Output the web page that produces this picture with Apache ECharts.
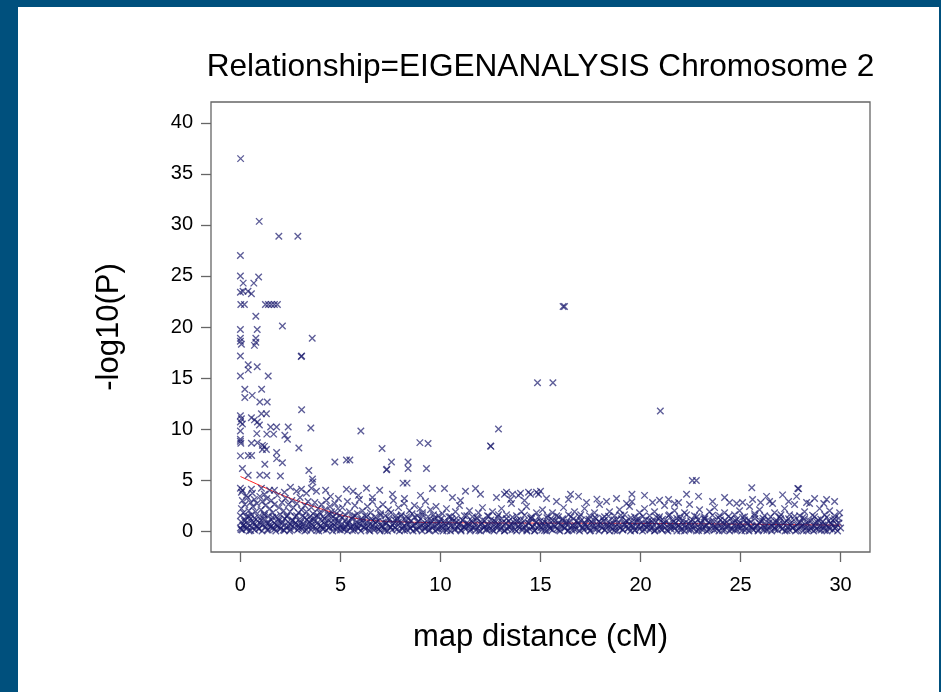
<!DOCTYPE html>
<html><head><meta charset="utf-8">
<script src="https://cdn.jsdelivr.net/npm/echarts@6/dist/echarts.min.js"></script>
<style>html,body{margin:0;padding:0;background:#fff}#c{width:941px;height:692px}</style>
</head><body><div id="c"></div>
<script>
const titleText = 'Relationship=EIGENANALYSIS Chromosome 2';
const xName = 'map distance (cM)';
const yName = '-log10(P)';
const xTicks = [0,5,10,15,20,25,30];
const yTicks = [0,5,10,15,20,25,30,35,40];

const peaks = [[0.01,36.5],[0.94,30.35],[1.92,28.9],[2.87,28.9],[0,27.0],[0,25.0],[0.91,24.9],[0.14,24.3],[0.67,24.3],[0,23.4],[0.13,23.5],[0.38,23.5],[0.55,23.25],[0.02,22.2],[0.2,22.2],[1.25,22.2],[1.4,22.2],[1.55,22.2],[1.7,22.2],[1.85,22.2],[0.77,21.05],[0,19.75],[0.84,19.75],[2.1,20.1],[0,18.9],[0,18.6],[0.05,18.3],[0.77,18.9],[0.77,18.5],[0.7,18.2],[3.59,18.9],[0,17.15],[3.06,17.15],[3.04,17.1],[0.39,16.3],[0.39,15.8],[0.84,16.1],[0,15.2],[1.39,15.2],[0.22,13.9],[1.06,13.9],[0.22,13.1],[0.59,13.3],[0.97,12.65],[1.34,12.65],[3.06,11.9],[1.05,11.5],[1.3,11.5],[0,11.3],[0.05,11.0],[0,10.7],[0.1,10.5],[0.55,11.1],[0.7,10.9],[0.85,10.7],[0.95,10.4],[1.51,10.2],[1.81,10.2],[2.39,10.2],[3.52,10.1],[6.02,9.8],[0,9.8],[0.82,9.55],[1.32,9.5],[1.66,9.5],[2.22,9.4],[2.35,9.0],[0,9.0],[0,8.8],[0.02,8.6],[0.55,8.6],[0.85,8.65],[1.1,8.4],[1.1,8.0],[1.3,8.0],[1.2,8.3],[2.92,8.15],[0,7.37],[0.39,7.4],[0.56,7.4],[1.81,7.7],[1.81,7.1],[2.1,6.7],[1.22,6.55],[4.72,6.78],[5.3,6.97],[5.47,6.97],[0.1,6.13],[0.39,5.48],[0.97,5.5],[1.32,5.45],[2.0,5.4],[3.42,5.93],[3.6,5.1],[3.62,4.8],[7.08,8.1],[8.97,8.67],[9.38,8.58],[7.3,6.0],[7.32,6.05],[7.55,6.78],[8.38,6.78],[8.38,6.13],[9.3,6.13],[8.13,4.7],[8.33,4.7],[12.5,8.35],[12.52,8.3],[12.9,10.0],[11.25,3.9],[11.75,4.17],[10.2,4.17],[9.6,4.17],[14.85,14.54],[15.62,14.54],[20.99,11.77],[22.59,4.96],[22.79,4.96],[25.56,4.24],[27.86,4.17],[27.9,4.15],[16.13,22.0],[16.2,22.0],[17.82,3.13],[19.57,3.6],[19.57,2.87],[20.95,3.03],[27.1,3.55],[29.16,2.7],[25.1,2.8]];

const bandLow = [[0,0.3],[0.04,0.9],[0.09,0.1],[0.17,0.6],[0.24,1.1],[0.29,0.2],[0.37,0.7],[0.44,0],[0.51,1.2],[0.57,0.4],[0.65,0.9],[0.71,0.1],[0.79,0.5],[0.87,1],[0.93,0.2],[1.01,0.7],[1.08,0],[1.16,1.2],[1.24,0.4],[1.31,0.8],[1.39,0.1],[1.46,0.6],[1.54,1.1],[1.61,0.3],[1.69,0.8],[1.77,0],[1.84,0.5],[1.92,1],[1.99,0.2],[2.07,0.7],[2.15,0.1],[2.22,1.2],[2.3,0.4],[2.38,0.9],[2.46,0],[2.53,0.6],[2.61,1.1],[2.69,0.3],[2.77,0.8],[2.85,0.1],[2.92,0.5],[2.99,1],[3.07,0.2],[3.15,0.7],[3.22,0],[3.3,1.1],[3.38,0.4],[3.46,0.9],[3.53,0.1],[3.61,0.6],[3.69,1.2],[3.76,0.3],[3.84,0.8],[3.92,0],[3.99,0.5],[4.07,1],[4.15,0.2],[4.22,0.7],[4.3,0.1],[4.38,1.1],[4.45,0.4],[4.53,0.9],[4.61,0],[4.68,0.6],[4.76,1.2],[4.84,0.3],[4.91,0.8],[4.99,0.1],
[5.06,0.6],[5.13,0.2],[5.21,1],[5.27,0.4],[5.35,0],[5.42,0.8],[5.5,0.3],[5.57,1.2],[5.65,0.5],[5.71,0.1],[5.8,0.9],[5.87,0.3],[5.94,0.7],[6.02,0],[6.1,1.1],[6.16,0.4],[6.24,0.2],[6.31,0.9],[6.39,0.5],[6.47,0],[6.54,1.2],[6.6,0.6],[6.68,0.1],[6.76,0.8],[6.83,0.3],[6.9,1],[6.98,0],[7.05,0.5],[7.13,0.9],[7.2,0.2],[7.28,0.7],[7.35,0],[7.43,1.1],[7.5,0.4],[7.58,0.1],[7.66,0.8],[7.73,0.3],[7.81,1.2],[7.88,0.6],[7.95,0],[8.03,0.9],[8.1,0.2],[8.18,0.5],[8.26,1.1],[8.33,0.1],[8.41,0.7],[8.48,0.3],[8.55,1],[8.63,0],[8.7,0.6],[8.78,0.2],[8.86,0.9],[8.93,0.4],[9.01,1.2],[9.08,0],[9.15,0.7],[9.23,0.2],[9.31,1],[9.38,0.5],[9.46,0.1],[9.53,0.8],[9.6,0.3],[9.68,1.1],[9.75,0],[9.83,0.6],[9.9,0.2],[9.98,0.9],
[10.05,0.4],[10.13,0],[10.2,1],[10.27,0.6],[10.35,0.2],[10.43,0.8],[10.5,0],[10.57,1.2],[10.65,0.5],[10.72,0.1],[10.8,0.9],[10.88,0.3],[10.95,0.7],[11.03,0],[11.1,1.1],[11.17,0.4],[11.25,0.2],[11.32,0.8],[11.4,0.5],[11.48,0],[11.55,1],[11.62,0.3],[11.7,0.7],[11.78,0.1],[11.85,1.2],[11.92,0.5],[12,0],[12.07,0.8],[12.15,0.3],[12.22,1],[12.3,0.1],[12.37,0.6],[12.45,0.2],[12.52,1.1],[12.6,0.4],[12.67,0],[12.75,0.9],[12.82,0.3],[12.9,0.7],[12.97,0.1],[13.05,1.2],[13.12,0.5],[13.2,0],[13.27,0.8],[13.35,0.2],[13.42,1],[13.5,0.4],[13.57,0.1],[13.65,0.9],[13.72,0.6],[13.8,0],[13.87,1.1],[13.95,0.3],[14.02,0.7],[14.1,0.1],[14.17,1],[14.25,0.5],[14.32,0],[14.4,0.8],[14.47,0.2],[14.55,1.2],[14.62,0.4],[14.7,0],[14.77,0.9],[14.85,0.3],[14.92,0.6],
[15,1],[15.07,0.1],[15.15,0.5],[15.22,0.9],[15.3,0],[15.37,0.7],[15.45,0.3],[15.52,1.2],[15.6,0.1],[15.67,0.6],[15.75,1],[15.82,0.2],[15.9,0.8],[15.97,0],[16.05,0.5],[16.12,1.1],[16.2,0.3],[16.27,0.7],[16.35,0],[16.42,0.9],[16.5,0.4],[16.57,0.1],[16.65,1.2],[16.72,0.6],[16.8,0.2],[16.87,0.8],[16.95,0],[17.02,1],[17.1,0.4],[17.17,0.1],[17.25,0.7],[17.32,1.1],[17.4,0.3],[17.47,0],[17.55,0.9],[17.62,0.5],[17.7,0.2],[17.77,1.2],[17.85,0.6],[17.92,0],[18,0.8],[18.07,0.3],[18.15,1],[18.22,0.1],[18.3,0.5],[18.37,0.9],[18.45,0],[18.52,0.7],[18.6,0.2],[18.67,1.1],[18.75,0.4],[18.82,0],[18.9,0.8],[18.97,0.3],[19.05,1.2],[19.12,0.1],[19.2,0.6],[19.27,1],[19.35,0.2],[19.42,0.7],[19.5,0],[19.57,0.9],[19.65,0.4],[19.72,0.1],[19.8,1.1],[19.87,0.5],[19.95,0.2],
[20.02,0.8],[20.1,0],[20.17,0.6],[20.25,1.1],[20.32,0.3],[20.4,0.7],[20.47,0.1],[20.55,1],[20.62,0.4],[20.7,0],[20.77,0.9],[20.85,0.2],[20.92,1.2],[21,0.5],[21.07,0.1],[21.15,0.8],[21.22,0.3],[21.3,1],[21.37,0],[21.45,0.6],[21.52,0.2],[21.6,1.1],[21.67,0.4],[21.75,0.8],[21.82,0],[21.9,0.5],[21.97,1.2],[22.05,0.2],[22.12,0.7],[22.2,0],[22.27,0.9],[22.35,0.4],[22.42,0.1],[22.5,1],[22.57,0.6],[22.65,0.2],[22.72,0.8],[22.8,0],[22.87,1.1],[22.95,0.3],[23.02,0.7],[23.1,0.1],[23.17,1.2],[23.25,0.5],[23.32,0],[23.4,0.9],[23.47,0.2],[23.55,0.6],[23.62,1],[23.7,0.1],[23.77,0.4],[23.85,0.8],[23.92,0],[24,1.1],[24.07,0.3],[24.15,0.7],[24.22,0.1],[24.3,0.9],[24.37,0.5],[24.45,0],[24.52,1.2],[24.6,0.2],[24.67,0.6],[24.75,1],[24.82,0.1],[24.9,0.4],[24.97,0.8],
[25.05,0],[25.12,0.6],[25.2,1.1],[25.27,0.2],[25.35,0.7],[25.42,0],[25.5,0.9],[25.57,0.4],[25.65,0.1],[25.72,1.2],[25.8,0.5],[25.87,0],[25.95,0.8],[26.02,0.3],[26.1,1],[26.17,0.1],[26.25,0.6],[26.32,0.2],[26.4,1.1],[26.47,0.4],[26.55,0],[26.62,0.8],[26.7,0.3],[26.77,0.9],[26.85,0.1],[26.92,0.5],[27,1.2],[27.07,0.2],[27.15,0.7],[27.22,0],[27.3,1],[27.37,0.4],[27.45,0.1],[27.52,0.8],[27.6,0.3],[27.67,1.1],[27.75,0],[27.82,0.6],[27.9,0.2],[27.97,0.9],[28.05,0.5],[28.12,0],[28.2,1.2],[28.27,0.3],[28.35,0.7],[28.42,0.1],[28.5,1],[28.57,0.4],[28.65,0],[28.72,0.8],[28.8,0.2],[28.87,1.1],[28.95,0.5],[29.02,0.1],[29.1,0.9],[29.17,0.3],[29.25,0.6],[29.32,0],[29.4,1],[29.47,0.2],[29.55,0.7],[29.62,0.1],[29.7,1.2],[29.77,0.4],[29.85,0],[29.92,0.8],[30,0.3]];

const bandLow2 = [[0.03,0.15],[0.12,0.55],[0.21,0.95],[0.33,0.35],[0.41,1.45],[0.52,0.05],[0.61,0.75],[0.7,1.25],[0.82,0.45],[0.91,0.25],[1.03,1.05],[1.12,0.65],[1.2,1.55],[1.33,0.1],[1.42,0.85],[1.5,0.4],[1.61,1.35],[1.72,0.2],[1.8,0.6],[1.91,1.15],[2.02,0.3],[2.11,0.9],[2.2,0.05],[2.32,1.4],[2.41,0.5],[2.5,0.15],[2.62,1.0],[2.7,0.7],[2.81,1.5],[2.92,0.25],[3.01,0.8],[3.1,0.45],[3.22,1.3],[3.31,0.1],[3.4,0.65],[3.52,1.1],[3.6,0.35],[3.71,0.95],[3.82,0.05],[3.9,1.45],[4.02,0.55],[4.11,0.2],[4.2,1.2],[4.31,0.75],[4.42,0.3],[4.5,1.6],[4.61,0.4],[4.72,0.9],[4.8,0.1],[4.91,1.05],
[5.02,0.35],[5.11,1.3],[5.2,0.15],[5.32,0.7],[5.41,1.0],[5.52,0.45],[5.6,0.05],[5.72,1.5],[5.81,0.6],[5.9,0.25],[6.01,1.15],[6.12,0.85],[6.2,0.4],[6.31,1.4],[6.42,0.1],[6.5,0.65],[6.62,1.05],[6.7,0.3],[6.81,0.95],[6.92,0.2],[7.01,1.55],[7.1,0.5],[7.22,0.05],[7.3,0.8],[7.41,1.25],[7.52,0.35],[7.6,0.6],[7.71,1.1],[7.82,0.15],[7.9,0.9],[8.02,1.45],[8.11,0.4],[8.2,0.05],[8.32,0.75],[8.41,1.2],[8.5,0.25],[8.62,0.55],[8.7,1.35],[8.81,0.1],[8.92,0.95],[9.01,0.45],[9.1,1.6],[9.22,0.3],[9.3,0.7],[9.41,0.05],[9.52,1.0],[9.6,0.5],[9.71,1.3],[9.82,0.2],[9.9,0.85],
[10.01,1.15],[10.12,0.3],[10.2,0.75],[10.31,0.05],[10.42,1.4],[10.5,0.5],[10.61,0.95],[10.72,0.2],[10.8,1.25],[10.91,0.6],[11.02,0.1],[11.1,1.05],[11.21,0.4],[11.32,1.5],[11.4,0.7],[11.51,0.15],[11.62,0.9],[11.7,0.35],[11.81,1.3],[11.92,0.05],[12.01,0.65],[12.1,1.1],[12.22,0.45],[12.3,0.2],[12.41,1.45],[12.52,0.8],[12.6,0.1],[12.71,1.0],[12.82,0.55],[12.9,1.6],[13.01,0.25],[13.1,0.85],[13.21,0.05],[13.3,1.2],[13.42,0.4],[13.51,0.7],[13.6,1.35],[13.72,0.15],[13.81,0.95],[13.9,0.5],[14.02,1.05],[14.11,0.3],[14.2,1.55],[14.31,0.1],[14.42,0.75],[14.5,1.25],[14.61,0.45],[14.72,0.05],[14.8,0.9],[14.91,1.4],
[15.02,0.35],[15.11,0.8],[15.2,0.05],[15.32,1.3],[15.41,0.6],[15.5,0.2],[15.62,1.05],[15.7,0.45],[15.81,1.5],[15.92,0.1],[16.01,0.7],[16.1,1.2],[16.22,0.3],[16.31,0.9],[16.4,0.05],[16.52,1.4],[16.6,0.55],[16.71,0.15],[16.82,1.0],[16.9,0.65],[17.01,1.6],[17.12,0.25],[17.2,0.85],[17.31,0.4],[17.42,1.15],[17.5,0.05],[17.61,0.75],[17.72,1.35],[17.8,0.2],[17.91,0.95],[18.02,0.5],[18.1,1.25],[18.21,0.1],[18.32,0.6],[18.4,1.45],[18.51,0.35],[18.62,0.8],[18.7,0.05],[18.81,1.1],[18.92,0.45],[19.01,1.55],[19.1,0.15],[19.22,0.7],[19.3,1.0],[19.41,0.3],[19.52,1.3],[19.6,0.55],[19.71,0.05],[19.82,0.9],[19.9,1.2],
[20.01,0.4],[20.12,1.45],[20.2,0.15],[20.31,0.65],[20.42,1.05],[20.5,0.3],[20.61,0.85],[20.72,0.05],[20.8,1.35],[20.91,0.55],[21.02,0.2],[21.1,1.15],[21.21,0.7],[21.32,0.1],[21.4,1.5],[21.51,0.45],[21.62,0.9],[21.7,0.25],[21.81,1.25],[21.92,0.6],[22.01,0.05],[22.1,1.0],[22.22,0.35],[22.3,1.6],[22.41,0.75],[22.52,0.15],[22.6,1.1],[22.71,0.5],[22.82,1.4],[22.9,0.05],[23.01,0.8],[23.1,0.3],[23.22,1.2],[23.3,0.6],[23.41,0.1],[23.52,0.95],[23.6,1.55],[23.71,0.4],[23.82,0.2],[23.9,1.3],[24.01,0.7],[24.1,0.05],[24.22,1.05],[24.3,0.5],[24.41,1.45],[24.52,0.25],[24.6,0.85],[24.71,0.1],[24.82,1.15],[24.9,0.65],
[25.01,0.3],[25.1,1.35],[25.22,0.05],[25.3,0.75],[25.41,1.1],[25.52,0.45],[25.6,0.2],[25.71,1.5],[25.82,0.6],[25.9,0.1],[26.01,0.95],[26.12,1.25],[26.2,0.35],[26.31,0.05],[26.42,0.8],[26.5,1.4],[26.61,0.5],[26.72,0.15],[26.8,1.05],[26.91,0.7],[27.02,1.6],[27.1,0.25],[27.21,0.9],[27.32,0.05],[27.4,1.2],[27.51,0.55],[27.62,0.3],[27.7,1.45],[27.81,0.1],[27.92,0.85],[28.01,0.4],[28.1,1.3],[28.22,0.65],[28.3,0.05],[28.41,1.0],[28.52,0.2],[28.6,1.55],[28.71,0.45],[28.82,0.9],[28.9,0.15],[29.01,1.15],[29.12,0.6],[29.2,0.05],[29.31,1.35],[29.42,0.35],[29.5,0.8],[29.61,1.05],[29.72,0.25],[29.8,0.7],[29.91,1.25]];

const bandMid = [[0,1.5],[0.05,2.2],[0.1,3],[0.15,1.8],[0.22,2.6],[0.3,1.4],[0.36,3.3],[0.42,2],[0.5,2.8],[0.55,1.6],[0.62,2.4],[0.7,3.1],[0.76,1.9],[0.83,2.7],[0.9,1.4],[0.97,3.4],[1.03,2.1],[1.1,2.9],[1.18,1.7],[1.25,2.5],[1.32,3.2],[1.4,1.5],[1.47,2.2],[1.55,3],[1.62,1.8],[1.7,2.6],[1.78,1.4],[1.85,3.5],[1.93,2.3],[2,1.6],[2.08,2.8],[2.16,2],[2.25,3.2],[2.33,1.5],[2.4,2.6],[2.48,1.9],[2.57,3],[2.65,2.3],[2.73,1.4],[2.82,2.7],[2.9,1.8],[2.98,3.3],[3.05,2.1],[3.13,1.5],[3.22,2.5],[3.3,1.9],[3.38,2.9],[3.47,1.4],[3.55,2.3],[3.63,1.7],[3.72,2.8],[3.8,1.5],[3.88,2.2],[3.97,1.8],[4.05,2.6],[4.13,1.4],[4.22,2.1],[4.3,3],[4.38,1.6],[4.47,2.4],[4.55,1.9],[4.63,1.4],[4.72,2.7],[4.8,1.7],[4.88,2.2],[4.97,1.5],
[5.1,2.3],[5.22,1.6],[5.35,2.9],[5.45,1.9],[5.6,1.4],[5.72,2.5],[5.85,1.7],[5.95,3.1],[6.1,2],[6.22,1.5],[6.35,2.4],[6.5,1.8],[6.6,2.9],[6.75,1.4],[6.88,2.2],[7,1.7],[7.12,2.6],[7.25,1.5],[7.4,2.1],[7.52,1.8],[7.65,3],[7.78,1.5],[7.9,2.3],[8.05,1.6],[8.18,2.7],[8.3,1.4],[8.45,2],[8.58,1.7],[8.7,2.5],[8.85,1.5],[8.98,2.2],[9.1,1.8],[9.25,2.9],[9.38,1.4],[9.5,2.1],[9.65,1.6],[9.78,2.4],[9.9,1.5],
[10.1,1.7],[10.3,2.2],[10.5,1.4],[10.75,1.9],[10.95,2.5],[11.2,1.5],[11.45,2],[11.6,1.4],[11.9,1.8],[12.1,2.3],[12.35,1.5],[12.6,1.9],[12.85,1.4],[13.05,2.2],[13.3,1.6],[13.55,2.7],[13.8,1.5],[14.05,1.9],[14.3,2.4],[14.55,1.4],[14.8,1.8],[15.1,2.1],[15.35,1.5],[15.6,1.8],[15.9,1.4],[16.15,2.3],[16.4,1.6],[16.7,1.9],[16.95,1.4],[17.2,2.2],[17.45,1.5],[17.7,1.8],[17.95,2.6],[18.2,1.4],[18.45,1.9],[18.7,1.5],[18.95,2.1],[19.2,1.6],[19.45,2.4],[19.7,1.4],[19.95,1.8],[20.2,2.2],[20.45,1.5],[20.7,1.9],[20.95,1.4],[21.2,2.5],[21.45,1.6],[21.7,2],[21.95,1.4],[22.2,1.8],[22.45,2.6],[22.7,1.5],[22.95,2.1],[23.2,1.4],[23.45,1.9],[23.7,2.3],[23.95,1.5],[24.2,1.8],[24.45,2.8],[24.7,1.6],[24.95,2],[25.2,1.4],[25.45,2.4],[25.7,1.7],[25.95,2.1],[26.2,1.5],[26.45,2.9],[26.7,1.8],[26.95,1.4],[27.2,2.2],[27.45,1.6],[27.7,2.6],[27.95,1.5],[28.2,1.9],[28.45,2.7],[28.7,1.4],[28.95,2.2],[29.2,1.6],[29.45,2],[29.7,1.5],[29.95,1.8]];

const bandHigh = [[0,4.2],[0.05,3.8],[0.1,4],[0.3,3.5],[0.55,4.1],[0.6,3.7],[1.05,4.2],[1.2,3.6],[1.46,4.0],[1.7,4.0],[2.2,3.8],[2.5,4.3],[2.8,3.9],[3.05,4.1],[3.3,3.7],[3.55,4.2],[3.8,3.9],[4.26,4.0],[4.5,3.4],[4.9,3.2],[5.3,4.1],[5.63,3.9],[5.9,3.5],[6.3,4.2],[6.6,3.3],[6.96,4.0],[7.6,3.6],[8.2,3.2],[9.0,3.5],
[10.6,3.3],[11.0,3.0],[12.0,3.6],[12.8,3.3],[13.2,3.6],[13.3,3.8],[13.5,3.1],[13.6,3.6],[13.9,3.5],[14.0,3.7],[14.2,3.0],[14.4,3.8],[14.5,3.6],[14.8,3.8],[14.9,3.6],[15.0,3.9],[15.3,3.2],[15.8,2.9],[16.4,3.1],[16.5,3.6],[16.9,3.4],[17.3,2.8],[18.3,2.9],[18.8,3.2],[19.3,2.7],[20.2,3.5],[20.6,2.8],[21.4,3.1],[21.7,2.7],[21.9,2.8],[22.3,3.6],[22.9,3.4],[23.6,2.9],[24.2,3.3],[24.8,2.7],[25.6,3.1],[26.0,2.8],[26.3,3.4],[26.6,2.7],[27.4,2.9],[27.8,3.4],[28.3,2.8],[28.7,3.2],[29.3,3.1],[29.7,2.9]];

const trendX = [0,1,2,3,4,5,6,7,8,9,10,12,15,18,20,22,25,28,30];
const trendY = [5.35,4.45,3.6,2.85,2.2,1.6,1.17,0.98,0.9,0.85,0.82,0.8,0.78,0.77,0.75,0.73,0.68,0.62,0.58];

const FONT = '"Liberation Sans", Arial, Helvetica, sans-serif';
const chart = echarts.init(document.getElementById('c'), null, {renderer: 'canvas'});
const points = peaks.concat(bandLow, bandLow2, bandMid, bandHigh);
const trend = trendX.map((x, i) => [x, trendY[i]]);

chart.setOption({
  animation: false,
  backgroundColor: '#ffffff',
  grid: {left: 211, top: 102, right: 71, bottom: 140, show: true, borderColor: '#666', borderWidth: 1.3, backgroundColor: 'transparent'},
  graphic: [
    {type: 'rect', shape: {x: 0, y: 0, width: 18, height: 692}, style: {fill: '#00507d'}, z: 100},
    {type: 'rect', shape: {x: 0, y: 0, width: 941, height: 7}, style: {fill: '#00507d'}, z: 100},
    {type: 'rect', shape: {x: 939, y: 0, width: 2, height: 692}, style: {fill: '#00507d'}, z: 100},
    {type: 'text', x: 540.5, y: 67, style: {text: titleText, font: '31.6px ' + FONT, fill: '#000', textAlign: 'center', textVerticalAlign: 'middle'}}
  ],
  xAxis: {
    type: 'value', min: -1.47, max: 31.47,
    name: xName, nameLocation: 'middle', nameGap: 70,
    nameTextStyle: {fontSize: 31, fontFamily: FONT, color: '#000'},
    axisLine: {show: false, onZero: false},
    splitLine: {show: false},
    axisTick: {show: true, customValues: xTicks, length: 10, inside: false, lineStyle: {color: '#666', width: 1.3}},
    axisLabel: {customValues: xTicks, fontSize: 20, fontFamily: FONT, color: '#000', margin: 23}
  },
  yAxis: {
    type: 'value', min: -2.05, max: 42.05,
    name: yName, nameLocation: 'middle', nameGap: 86,
    nameTextStyle: {fontSize: 31, fontFamily: FONT, color: '#000'},
    axisLine: {show: false, onZero: false},
    splitLine: {show: false},
    axisTick: {show: true, customValues: yTicks, length: 10, inside: false, lineStyle: {color: '#666', width: 1.3}},
    axisLabel: {customValues: yTicks, fontSize: 20, fontFamily: FONT, color: '#000', margin: 18}
  },
  series: [
    {type: 'line', data: trend, smooth: true, showSymbol: false, symbol: 'none', lineStyle: {color: '#ff2020', width: 1}, z: 1, silent: true},
    {type: 'scatter', data: points, symbol: 'path://M0,0L10,10M10,0L0,10', symbolSize: 6.5,
     itemStyle: {color: 'rgba(0,0,0,0)', borderColor: 'rgba(24,24,108,0.88)', borderWidth: 1.35}, z: 2, large: false}
  ]
});
</script>
</body></html>
